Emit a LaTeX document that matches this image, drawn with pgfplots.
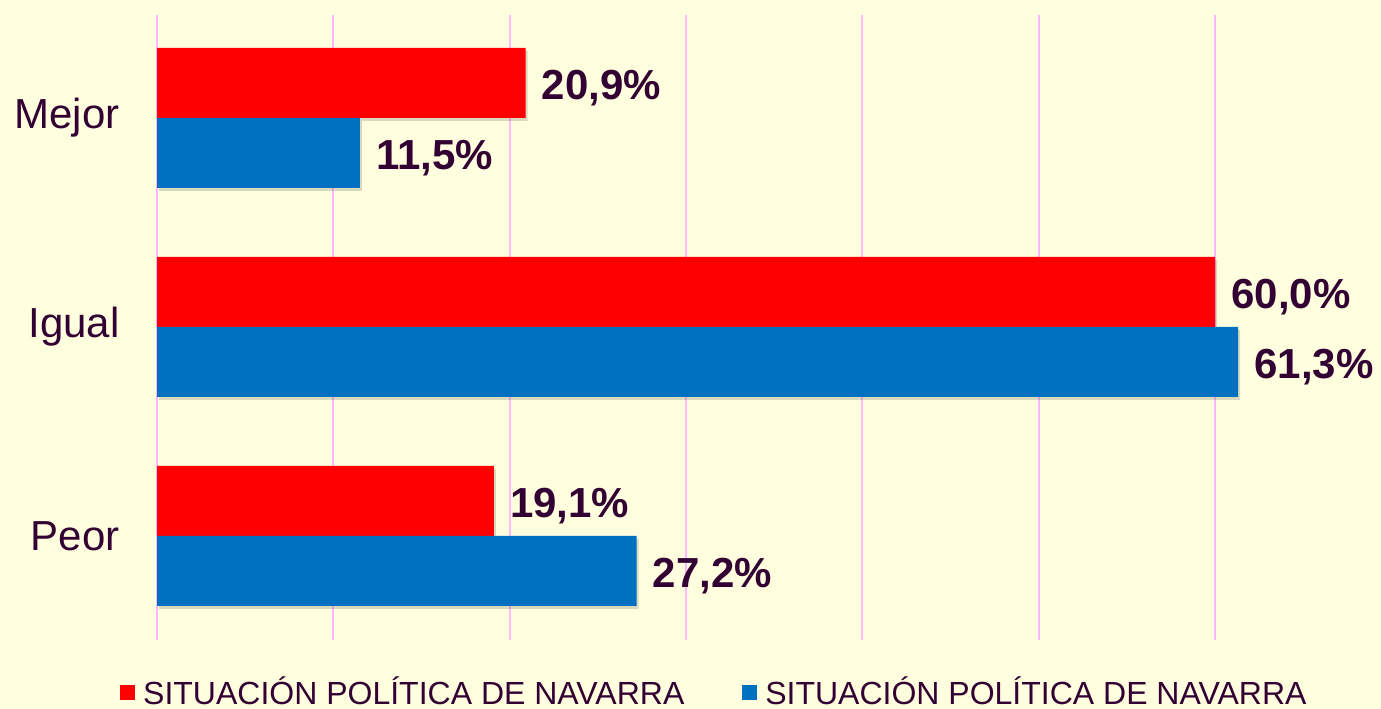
\documentclass[border=0pt]{standalone}
\usepackage{fontspec}
\setmainfont{Liberation Sans}
\usepackage{pgfplots}
\pgfplotsset{compat=1.18}
\definecolor{bg}{HTML}{FFFFE0}
\definecolor{txt}{HTML}{330033}
\definecolor{gridpink}{HTML}{FFB8FF}
\definecolor{barred}{HTML}{FF0000}
\definecolor{barblue}{HTML}{0070C0}
\begin{document}
\begin{tikzpicture}[x=1pt,y=1pt]
\fill[bg] (0,0) rectangle (1381,709);
\useasboundingbox (0,0) rectangle (1381,709);
\begin{axis}[
  at={(157pt,69pt)}, anchor=south west,
  scale only axis, width=1224pt, height=625pt,
  xmin=0, xmax=69.4, ymin=-0.4976, ymax=2.4928,
  xbar, bar width=70pt,
  axis line style={draw=none},
  tick style={draw=none},
  xtick={0,10,...,60}, xticklabels={},
  xmajorgrids, grid style={color=gridpink, line width=2pt},
  ytick={0,1,2}, yticklabels={Peor,Igual,Mejor},
  yticklabel style={font=\fontsize{42}{42}\selectfont, text=txt, inner sep=0pt, anchor=east, xshift=-33pt},
  point meta=x,
  nodes near coords={\pgfmathprintnumber[fixed,fixed zerofill,precision=1,use comma,assume math mode=true]{\pgfplotspointmeta}\%},
  nodes near coords style={anchor=west, inner sep=0pt, xshift=16pt, yshift=-5pt, font=\fontsize{42}{42}\selectfont\bfseries, text=txt},
  legend columns=2,
  legend style={draw=none, fill=none, at={(axis description cs:0,0)}, anchor=north west,
    xshift=-37pt, yshift=-37pt, font=\fontsize{32}{32}\selectfont, text=txt,
    inner sep=0pt, nodes={inner sep=0pt},
    /tikz/every even column/.append style={column sep=58pt}},
  legend image code/.code={\fill[#1] (0pt,-8pt) rectangle (15pt,7pt); \path (23pt,0pt);},
]
\addplot[fill=barred, draw=none, bar shift=35pt, forget plot,
  preaction={fill=black, fill opacity=0.15, transform canvas={xshift=2pt,yshift=-3pt}}]
  coordinates {(19.1,0) (60.0,1) (20.9,2)};
\addplot[fill=barblue, draw=none, bar shift=-35pt, forget plot,
  preaction={fill=black, fill opacity=0.15, transform canvas={xshift=2pt,yshift=-3pt}}]
  coordinates {(27.2,0) (61.3,1) (11.5,2)};
\addlegendimage{fill=barred, draw=none}
\addlegendentry{SITUACIÓN POLÍTICA DE NAVARRA}
\addlegendimage{fill=barblue, draw=none}
\addlegendentry{SITUACIÓN POLÍTICA DE NAVARRA}
\end{axis}
\end{tikzpicture}
\end{document}
